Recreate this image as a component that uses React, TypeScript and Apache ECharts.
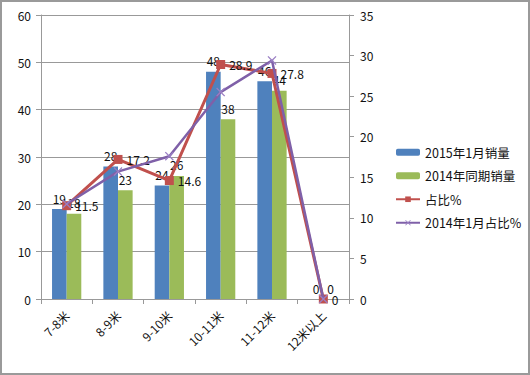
import React, { useEffect, useRef } from "react";
import * as echarts from "echarts";

const categories = ["7-8米", "8-9米", "9-10米", "10-11米", "11-12米", "12米以上"];
const sales2015 = [19, 28, 24, 48, 46, 0];
const sales2014 = [18, 23, 26, 38, 44, 0];
const share = [11.5, 17.2, 14.6, 28.9, 27.8, 0];
const share2014 = [11.7, 15.7, 17.6, 25.5, 29.4, 0];
const leftTicks = { min: 0, max: 60, interval: 10 };
const rightTicks = { min: 0, max: 35, interval: 5 };

const FONT = "'Noto Sans CJK SC', 'Noto Sans', sans-serif";
const X_SYMBOL = "path://M0,1L1,0L5,4L9,0L10,1L6,5L10,9L9,10L5,6L1,10L0,9L4,5Z";

export default function App() {
  const ref = useRef<HTMLDivElement>(null);
  useEffect(() => {
    if (!ref.current) return;
    const chart = echarts.init(ref.current, null, { renderer: "svg" });
    const lbl = { color: "#111", fontSize: 12, fontFamily: FONT };
    chart.setOption({
      animation: false,
      backgroundColor: "#fff",
      textStyle: { fontFamily: FONT },
      graphic: [
        {
          type: "rect",
          shape: { x: 1, y: 1, width: 528, height: 373 },
          style: { fill: "none", stroke: "#9a9a9a", lineWidth: 2 },
          z: 100,
        },
      ],
      grid: { left: 41, right: 181, top: 15, bottom: 76, containLabel: false },
      legend: {
        orient: "vertical",
        left: 390,
        top: 141,
        padding: 5,
        itemWidth: 24,
        itemHeight: 7,
        itemGap: 11,
        textStyle: { ...lbl, fontSize: 12.5 },
        data: ["2015年1月销量", "2014年同期销量", "占比%", "2014年1月占比%"],
      },
      xAxis: {
        type: "category",
        data: categories,
        axisLine: { lineStyle: { color: "#999" } },
        axisTick: { show: true, alignWithLabel: false, length: 5, lineStyle: { color: "#999" } },
        axisLabel: { ...lbl, rotate: 45, margin: 14, interval: 0 },
      },
      yAxis: [
        {
          type: "value",
          ...leftTicks,
          axisLine: { show: true, lineStyle: { color: "#999" } },
          axisTick: { show: true, length: 5, lineStyle: { color: "#999" } },
          splitLine: { lineStyle: { color: "#999" } },
          axisLabel: { ...lbl, margin: 10 },
        },
        {
          type: "value",
          ...rightTicks,
          position: "right",
          axisLine: { show: true, lineStyle: { color: "#999" } },
          axisTick: { show: true, length: 5, lineStyle: { color: "#999" } },
          splitLine: { show: false },
          axisLabel: { ...lbl, margin: 11 },
        },
      ],
      series: [
        {
          name: "2015年1月销量",
          type: "bar",
          data: sales2015,
          barGap: "0%",
          barCategoryGap: "43%",
          itemStyle: { color: "#4F81BD" },
          label: { show: true, position: "top", distance: 5, ...lbl },
        },
        {
          name: "2014年同期销量",
          type: "bar",
          data: sales2014,
          itemStyle: { color: "#9BBB59" },
          label: { show: true, position: "top", distance: 5, ...lbl },
        },
        {
          name: "占比%",
          type: "line",
          yAxisIndex: 1,
          data: share,
          symbol: "rect",
          symbolSize: 9,
          lineStyle: { color: "#C0504D", width: 3 },
          itemStyle: { color: "#C0504D" },
          label: { show: true, position: "right", distance: 4, ...lbl },
          z: 3,
        },
        {
          name: "2014年1月占比%",
          type: "line",
          yAxisIndex: 1,
          data: share2014,
          symbol: X_SYMBOL,
          symbolSize: 9,
          lineStyle: { color: "#7F60A8", width: 2.5 },
          itemStyle: { color: "#9A7FC4" },
          z: 4,
        },
      ],
    });
    return () => chart.dispose();
  }, []);
  return (
    <div
      ref={ref}
      style={{ position: "fixed", left: 0, top: 0, width: 530, height: 375 }}
    />
  );
}
